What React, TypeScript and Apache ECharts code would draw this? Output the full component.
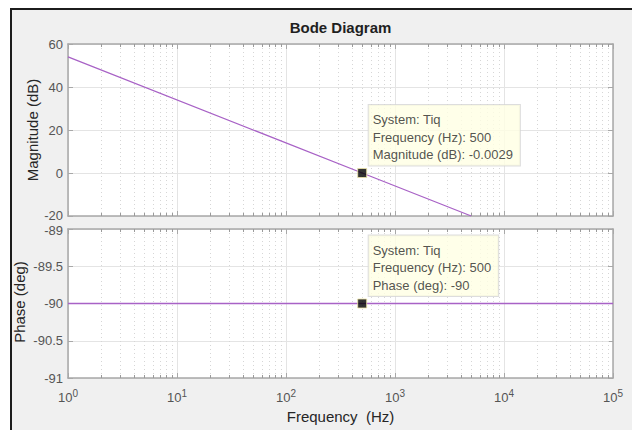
import { useEffect, useRef } from "react";
import * as echarts from "echarts";

// Frequency response of system "Tiq" (integrator, 0 dB crossing at 500 Hz)
const MAG_FREQ_HZ = [1, 500, 5000];
const MAG_DB = [54, -0.0029, -20];
const PHASE_FREQ_HZ = [1, 500, 100000];
const PHASE_DEG = [-90, -90, -90];

// Data tip readouts
const SYSTEM_NAME = "Tiq";
const TIP_FREQ_HZ = 500;
const TIP_MAG_DB = -0.0029;
const TIP_PHASE_DEG = -90;

// Axis ranges and ticks
const FREQ_MIN = 1;
const FREQ_MAX = 100000;
const MAG_MIN = -20;
const MAG_MAX = 60;
const MAG_STEP = 20;
const PHASE_MIN = -91;
const PHASE_MAX = -89;
const PHASE_STEP = 0.5;
const DECADE_STARTS = [1, 10, 100, 1000, 10000];
const MINOR_MULTIPLIERS = [2, 3, 4, 5, 6, 7, 8, 9];
const MINOR_FREQS = DECADE_STARTS.flatMap((d) => MINOR_MULTIPLIERS.map((m) => d * m));

const FONT = "'Liberation Sans', Arial, Helvetica, sans-serif";
const LINE_COLOR = "#a862c6";
const BOX_COLOR = "#a8a8a8";
const GRID_COLOR = "#e4e4e4";
const TICK_TEXT = "#555555";

const superscriptLabel = (v: number) => `{b|10}{s|${Math.round(Math.log10(v))}}`;

function xAxes(gridIndex: number, withLabels: boolean) {
  const common = {
    gridIndex,
    type: "log" as const,
    logBase: 10,
    min: FREQ_MIN,
    max: FREQ_MAX,
    axisLine: { show: true, onZero: false, lineStyle: { color: BOX_COLOR, width: 1.5 } },
    axisTick: { show: true, inside: true, length: 5, lineStyle: { color: BOX_COLOR } },
  };
  return [
    {
      ...common,
      position: "bottom",
      splitLine: { show: true, lineStyle: { color: GRID_COLOR, width: 1 } },
      axisLabel: withLabels
        ? {
            show: true,
            margin: 10,
            formatter: superscriptLabel,
            rich: {
              b: { fontSize: 13, color: TICK_TEXT, fontFamily: FONT },
              s: { fontSize: 10, color: TICK_TEXT, fontFamily: FONT, padding: [0, 0, 9, 0] },
            },
          }
        : { show: false },
    },
    {
      ...common,
      position: "top",
      splitLine: { show: false },
      axisLabel: { show: false },
    },
  ];
}

// Edge labels of the stacked panels sit a little apart so they do not collide
function yAxes(gridIndex: number, min: number, max: number, interval: number, edge: "min" | "max") {
  const common = {
    gridIndex,
    type: "value" as const,
    min,
    max,
    interval,
    axisLine: { show: true, onZero: false, lineStyle: { color: BOX_COLOR, width: 1.5 } },
    axisTick: { show: true, inside: true, length: 5, lineStyle: { color: BOX_COLOR } },
  };
  const edgeValue = edge === "min" ? min : max;
  return [
    {
      ...common,
      position: "left",
      splitLine: { show: true, lineStyle: { color: GRID_COLOR, width: 1 } },
      axisLabel: {
        show: true,
        margin: 5,
        formatter: (v: number) => (v === edgeValue ? `{e|${v}}` : `${v}`),
        fontSize: 13,
        lineHeight: 13,
        color: TICK_TEXT,
        fontFamily: FONT,
        rich: {
          e: {
            fontSize: 13,
            lineHeight: 12,
            color: TICK_TEXT,
            fontFamily: FONT,
            padding: edge === "min" ? [0, 0, 2, 0] : [3, 0, 0, 0],
          },
        },
      },
    },
    {
      ...common,
      position: "right",
      splitLine: { show: false },
      axisLabel: { show: false },
    },
  ];
}

// Dotted minor grid lines with short inward ticks at 2..9 of every decade
function minorGrid(xAxisIndex: number, yAxisIndex: number, yRef: number) {
  return {
    type: "custom",
    xAxisIndex,
    yAxisIndex,
    silent: true,
    z: 1,
    clip: false,
    data: MINOR_FREQS.map((f) => [f, yRef]),
    renderItem: (params: any, api: any) => {
      const cs = params.coordSys;
      const x = Math.round(api.coord([api.value(0), api.value(1)])[0]) + 0.5;
      const top = cs.y;
      const bottom = cs.y + cs.height;
      return {
        type: "group",
        children: [
          {
            type: "line",
            shape: { x1: x, y1: top, x2: x, y2: bottom },
            style: { stroke: "#d6d6d6", lineWidth: 1, lineDash: [1, 3] },
          },
          {
            type: "line",
            shape: { x1: x, y1: top, x2: x, y2: top + 3 },
            style: { stroke: "#9a9a9a", lineWidth: 1 },
          },
          {
            type: "line",
            shape: { x1: x, y1: bottom - 3, x2: x, y2: bottom },
            style: { stroke: "#9a9a9a", lineWidth: 1 },
          },
        ],
      };
    },
  };
}

function dataTip(xAxisIndex: number, yAxisIndex: number, value: number, lines: string[]) {
  return {
    type: "scatter",
    xAxisIndex,
    yAxisIndex,
    z: 5,
    symbol: "rect",
    symbolSize: 9,
    itemStyle: { color: "#000", borderColor: "#efe6a8", borderWidth: 1 },
    data: [[TIP_FREQ_HZ, value]],
    label: {
      show: true,
      position: [11.5, -63],
      align: "left",
      verticalAlign: "top",
      formatter: () => lines.join("\n"),
      fontSize: 13,
      lineHeight: 17.5,
      color: "#262626",
      fontFamily: FONT,
      backgroundColor: "#ffffe3",
      borderColor: "#d4d4d4",
      borderWidth: 1,
      padding: [6, 7, 2, 4],
    },
  };
}

export default function App() {
  const ref = useRef<HTMLDivElement>(null);

  useEffect(() => {
    document.body.style.margin = "0";
    if (!ref.current) return;
    const chart = echarts.init(ref.current, undefined, { renderer: "svg" });

    chart.setOption({
      animation: false,
      backgroundColor: "#ffffff",
      textStyle: { fontFamily: FONT },
      grid: [
        { left: 68, right: 19, top: 44, height: 172 },
        { left: 68, right: 19, top: 229, height: 149 },
      ],
      xAxis: [...xAxes(0, false), ...xAxes(1, true)],
      yAxis: [
        ...yAxes(0, MAG_MIN, MAG_MAX, MAG_STEP, "min"),
        ...yAxes(1, PHASE_MIN, PHASE_MAX, PHASE_STEP, "max"),
      ],
      graphic: [
        {
          type: "rect",
          z: -10,
          silent: true,
          shape: { x: 11, y: 9, width: 660, height: 460 },
          style: { fill: "#f0f0f0", stroke: "#1c1c1c", lineWidth: 2 },
        },
        {
          type: "rect",
          z: -9,
          silent: true,
          shape: { x: 68, y: 44, width: 545, height: 172 },
          style: { fill: "#ffffff" },
        },
        {
          type: "rect",
          z: -9,
          silent: true,
          shape: { x: 68, y: 229, width: 545, height: 149 },
          style: { fill: "#ffffff" },
        },
        {
          type: "text",
          x: 340.5,
          y: 27,
          style: {
            text: "Bode Diagram",
            fontSize: 15,
            fontWeight: "bold",
            fill: "#1f1f1f",
            fontFamily: FONT,
            align: "center",
            verticalAlign: "middle",
          },
        },
        {
          type: "text",
          x: 32,
          y: 130,
          rotation: Math.PI / 2,
          style: {
            text: "Magnitude (dB)",
            fontSize: 15,
            fill: "#262626",
            fontFamily: FONT,
            align: "center",
            verticalAlign: "middle",
          },
        },
        {
          type: "text",
          x: 19,
          y: 302,
          rotation: Math.PI / 2,
          style: {
            text: "Phase (deg)",
            fontSize: 15,
            fill: "#262626",
            fontFamily: FONT,
            align: "center",
            verticalAlign: "middle",
          },
        },
        {
          type: "text",
          x: 340.5,
          y: 416,
          style: {
            text: "Frequency  (Hz)",
            fontSize: 15,
            fill: "#262626",
            fontFamily: FONT,
            align: "center",
            verticalAlign: "middle",
          },
        },
      ],
      series: [
        minorGrid(0, 0, MAG_MIN),
        minorGrid(2, 2, PHASE_MIN),
        {
          type: "line",
          xAxisIndex: 0,
          yAxisIndex: 0,
          z: 3,
          showSymbol: false,
          clip: true,
          lineStyle: { color: LINE_COLOR, width: 1.3 },
          data: MAG_FREQ_HZ.map((f, i) => [f, MAG_DB[i]]),
        },
        {
          type: "line",
          xAxisIndex: 2,
          yAxisIndex: 2,
          z: 3,
          showSymbol: false,
          clip: true,
          lineStyle: { color: LINE_COLOR, width: 1.3 },
          data: PHASE_FREQ_HZ.map((f, i) => [f, PHASE_DEG[i]]),
        },
        dataTip(0, 0, TIP_MAG_DB, [
          `System: ${SYSTEM_NAME}`,
          `Frequency (Hz): ${TIP_FREQ_HZ}`,
          `Magnitude (dB): ${TIP_MAG_DB}`,
        ]),
        dataTip(2, 2, TIP_PHASE_DEG, [
          `System: ${SYSTEM_NAME}`,
          `Frequency (Hz): ${TIP_FREQ_HZ}`,
          `Phase (deg): ${TIP_PHASE_DEG}`,
        ]),
      ],
    });

    return () => chart.dispose();
  }, []);

  return <div ref={ref} style={{ width: 632, height: 430 }} />;
}
